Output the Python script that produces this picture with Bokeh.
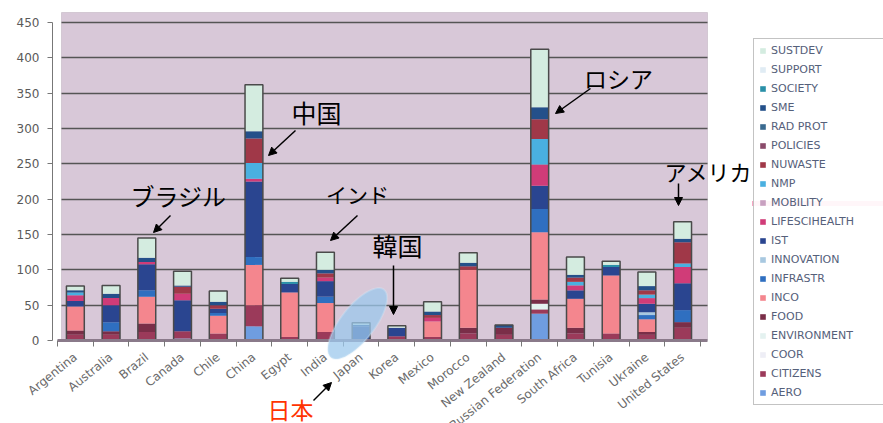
import math
from bokeh.plotting import figure
from bokeh.models import (ColumnDataSource, Range1d, FixedTicker, Legend, LegendItem,
                          Label, Arrow, NormalHead, PolyAnnotation, BoxAnnotation)
from bokeh.embed import file_html
from bokeh.resources import INLINE

countries = ["Argentina", "Australia", "Brazil", "Canada", "Chile", "China", "Egypt", "India",
             "Japan", "Korea", "Mexico", "Morocco", "New Zealand", "Russian Federation",
             "South Africa", "Tunisia", "Ukraine", "United States"]

# stacked series, bottom -> top
AERO          = [0, 0, 0, 3, 0, 20, 0, 0, 0, 0, 0, 0, 0, 38, 0, 0, 0, 0]
CITIZENS      = [8, 8, 12, 10, 10, 30, 5, 12, 0, 6, 5, 10, 8, 6, 10, 10, 8, 18]
COOR          = [0, 0, 0, 0, 0, 0, 0, 0, 0, 0, 0, 0, 0, 0, 0, 0, 0, 0]
ENVIRONMENT   = [0, 0, 0, 0, 0, 0, 0, 0, 0, 0, 0, 0, 0, 8, 0, 0, 0, 0]
FOOD          = [6, 5, 12, 0, 0, 0, 0, 0, 0, 0, 0, 8, 10, 6, 8, 0, 4, 8]
INCO          = [34, 0, 38, 0, 25, 57, 63, 41, 0, 0, 22, 82, 0, 95, 41, 82, 18, 0]
INFRASTR      = [0, 13, 9, 0, 4, 11, 0, 9, 0, 0, 0, 0, 0, 33, 0, 0, 6, 17]
INNOVATION    = [0, 0, 0, 0, 0, 0, 0, 0, 0, 0, 0, 0, 0, 0, 0, 0, 4, 0]
IST           = [8, 24, 37, 44, 6, 107, 12, 22, 20, 12, 0, 0, 0, 33, 12, 12, 12, 38]
LIFESCIHEALTH = [8, 10, 3, 9, 0, 4, 0, 5, 0, 0, 5, 0, 0, 30, 7, 0, 8, 23]
MOBILITY      = [0, 0, 0, 0, 0, 0, 0, 0, 0, 0, 0, 0, 0, 0, 0, 0, 0, 0]
NMP           = [4, 0, 0, 0, 0, 22, 0, 0, 0, 0, 0, 0, 0, 36, 5, 0, 5, 5]
NUWASTE       = [0, 0, 0, 10, 5, 35, 0, 6, 0, 0, 4, 5, 0, 28, 6, 0, 6, 30]
POLICIES      = [0, 0, 0, 0, 0, 0, 0, 0, 0, 0, 0, 0, 0, 0, 0, 0, 0, 0]
RAD_PROT      = [0, 0, 0, 0, 0, 0, 0, 0, 0, 0, 0, 0, 0, 0, 0, 0, 0, 0]
SME           = [3, 6, 6, 2, 5, 10, 0, 5, 2, 0, 5, 5, 4, 17, 4, 0, 6, 5]
SOCIETY       = [0, 0, 0, 0, 0, 0, 3, 0, 0, 0, 0, 0, 0, 0, 0, 3, 0, 0]
SUPPORT       = [0, 0, 0, 0, 0, 0, 0, 0, 0, 0, 0, 0, 0, 0, 0, 0, 0, 0]
SUSTDEV       = [6, 12, 28, 20, 15, 66, 5, 25, 3, 3, 14, 14, 0, 82, 25, 5, 20, 24]

series_names = ["AERO", "CITIZENS", "COOR", "ENVIRONMENT", "FOOD", "INCO", "INFRASTR",
                "INNOVATION", "IST", "LIFESCIHEALTH", "MOBILITY", "NMP", "NUWASTE",
                "POLICIES", "RAD PROT", "SME", "SOCIETY", "SUPPORT", "SUSTDEV"]
series_values = [AERO, CITIZENS, COOR, ENVIRONMENT, FOOD, INCO, INFRASTR, INNOVATION, IST,
                 LIFESCIHEALTH, MOBILITY, NMP, NUWASTE, POLICIES, RAD_PROT, SME, SOCIETY,
                 SUPPORT, SUSTDEV]
series_colors = ["#6f9de0", "#9b3a5a", "#eeeef6", "#e4f2f0", "#7a2e48", "#f4868e", "#2f6fc0",
                 "#a8c8e0", "#2a4590", "#d03c78", "#c8a0c0", "#4ab0e0", "#a03848",
                 "#8a4a6a", "#3a6a90", "#24508a", "#2a90a8", "#e0ecf4", "#d4ece0"]
y_ticks = list(range(0, 451, 50))

xs = list(range(len(countries)))
data = {"x": xs}
for n, v in zip(series_names, series_values):
    data[n] = v
source = ColumnDataSource(data)
totals = [sum(col[i] for col in series_values) for i in xs]

W, H = 883, 423
PXU = 35.72      # px per category
PYU = 0.7067     # px per value unit
X0PX, Y0PX = 57, 340   # px of category edge -0.5 and value 0


def dx(px):
    return (px - X0PX) / PXU - 0.5


def dy(py):
    return (Y0PX - py) / PYU


p = figure(width=W, height=H, output_backend="svg", toolbar_location=None,
           x_range=Range1d(dx(0), dx(W)), y_range=Range1d(dy(H), dy(0)),
           min_border_left=0, min_border_right=0, min_border_top=0, min_border_bottom=0)
p.background_fill_color = "white"
p.border_fill_color = "white"
p.outline_line_color = None

# chart wall
p.add_layout(BoxAnnotation(left=dx(61), right=dx(707), bottom=0, top=dy(12),
                           fill_color="#d8c8d8", fill_alpha=1, line_color="#9a8a9a",
                           line_width=1, level="image"))

# grid lines limited to the wall
p.xgrid.grid_line_color = None
p.ygrid.ticker = FixedTicker(ticks=y_ticks[1:])
p.ygrid.grid_line_color = "#555555"
p.ygrid.grid_line_width = 1.6
try:
    p.ygrid.cross_bounds = (dx(61), dx(707))
except Exception:
    p.ygrid.grid_line_color = None
    p.segment(x0=[dx(61)] * len(y_ticks[1:]), x1=[dx(707)] * len(y_ticks[1:]),
              y0=y_ticks[1:], y1=y_ticks[1:], line_color="#555555", line_width=1.6)

renderers = p.vbar_stack(series_names, x="x", width=0.5, color=series_colors,
                         source=source, line_width=0)
p.vbar(x=xs, top=totals, width=0.5, fill_color=None, line_color="#4a4a4a", line_width=1.5)

# axes fixed at chart positions
p.yaxis.fixed_location = dx(52)
p.yaxis.bounds = (0, 450)
p.yaxis.ticker = FixedTicker(ticks=y_ticks)
p.yaxis.axis_line_color = "#777777"
p.yaxis.major_tick_line_color = "#777777"
p.yaxis.major_tick_out = 5
p.yaxis.major_tick_in = 0
p.yaxis.minor_tick_line_color = None
p.yaxis.major_label_text_font = "DejaVu Sans"
p.yaxis.major_label_text_font_size = "12px"
p.yaxis.major_label_text_color = "#5a5a5a"
p.yaxis.major_label_standoff = 8

p.xaxis.fixed_location = 0
p.xaxis.bounds = (-0.5, dx(707))
p.xaxis.ticker = FixedTicker(ticks=xs, minor_ticks=[i - 0.5 for i in range(len(countries) + 1)])
p.xaxis.major_label_overrides = {i: c for i, c in enumerate(countries)}
p.xaxis.major_label_orientation = 0.68
p.xaxis.major_tick_line_color = None
p.xaxis.minor_tick_line_color = "#777777"
p.xaxis.minor_tick_out = 6
p.xaxis.minor_tick_in = 0
p.xaxis.axis_line_color = "#8a7a8a"
p.xaxis.axis_line_width = 3
p.xaxis.major_label_text_font = "DejaVu Sans"
p.xaxis.major_label_text_font_size = "12px"
p.xaxis.major_label_text_color = "#6a6a6a"
p.xaxis.major_label_standoff = 9

# legend (top = last stacked series)
items = [LegendItem(label=n, renderers=[r]) for n, r in zip(series_names, renderers)][::-1]
legend = Legend(items=items, location=(753, 18), orientation="vertical",
                label_text_font="DejaVu Sans", label_text_font_size="11px",
                label_text_color="#55607a", glyph_width=7, glyph_height=7, label_height=12,
                label_width=170, spacing=6, padding=5, margin=0, label_standoff=5,
                border_line_color="#888888", background_fill_color="white")
p.add_layout(legend)

# ellipse around Japan
cx, cy, a, b, ang = 357, 323, 43, 17, math.radians(-52)
ex, ey = [], []
for k in range(72):
    t = 2 * math.pi * k / 72
    px = cx + a * math.cos(t) * math.cos(ang) - b * math.sin(t) * math.sin(ang)
    py = cy + a * math.cos(t) * math.sin(ang) + b * math.sin(t) * math.cos(ang)
    ex.append(dx(px)); ey.append(dy(py))
p.add_layout(PolyAnnotation(xs=ex, ys=ey, fill_color="#9cc8ec", fill_alpha=0.75,
                            line_color="#d8ecf8", line_width=2))

jp_font = "Noto Sans CJK JP"
notes = [("ブラジル", 178, 195, "black", 24), ("中国", 316, 111, "black", 25),
         ("インド", 357, 193, "black", 21), ("韓国", 397, 244, "black", 25),
         ("ロシア", 618, 77, "black", 23), ("アメリカ", 708, 170, "black", 22),
         ("日本", 290, 408, "#ff3300", 23)]
for t, px, py, col, fs in notes:
    p.add_layout(Label(x=dx(px), y=dy(py), text=t, text_font=jp_font,
                       text_font_size=f"{fs}px", text_color=col,
                       text_align="center", text_baseline="middle"))

arrows = [(170, 215, 153, 232), (295, 130, 268, 155), (357, 215, 330, 240),
          (393, 265, 393, 314), (590, 88, 555, 113), (678, 183, 678, 205),
          (313, 400, 331, 382)]
for x0, y0, x1, y1 in arrows:
    p.add_layout(Arrow(x_start=dx(x0), y_start=dy(y0), x_end=dx(x1), y_end=dy(y1),
                       line_width=1.5, line_color="black",
                       end=NormalHead(size=8, fill_color="black", line_color="black")))

# pink marker line over the legend
p.add_layout(Arrow(x_start=dx(752), y_start=dy(203), x_end=dx(883), y_end=dy(203),
                   line_width=5, line_color="#f0508a", end=None, level="overlay"))

open("out.html", "w").write(file_html(p, INLINE))
